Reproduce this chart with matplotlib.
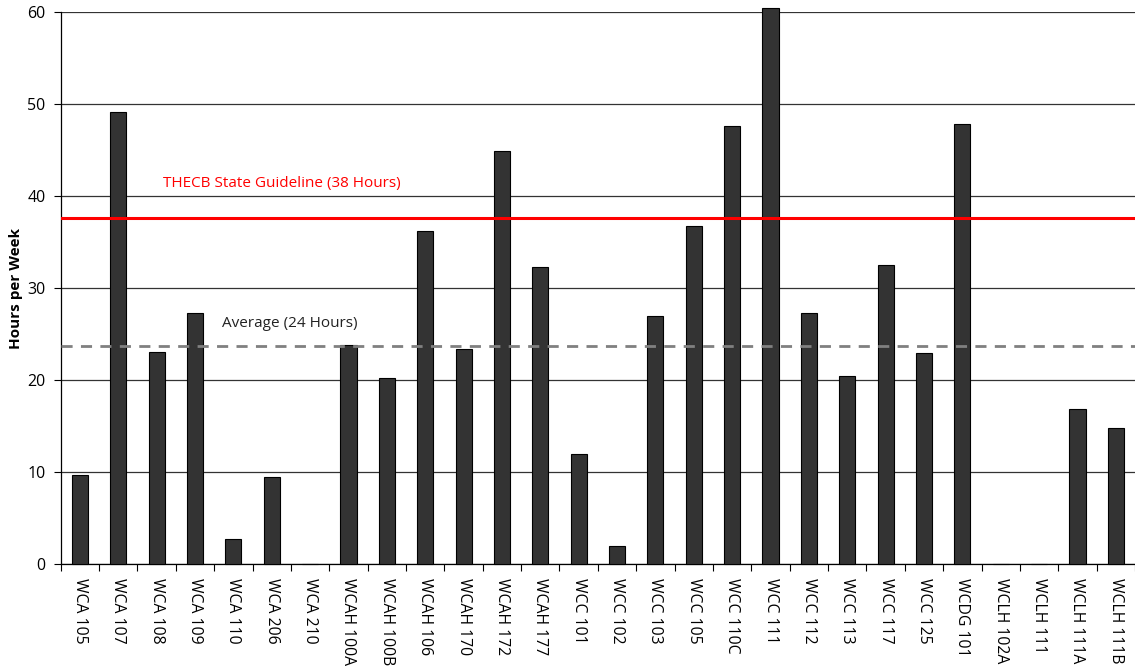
import matplotlib
matplotlib.use("Agg")
import matplotlib.pyplot as plt
import numpy as np

plt.rcParams['font.family'] = ['Open Sans', 'DejaVu Sans']

rooms = ["WCA 105", "WCA 107", "WCA 108", "WCA 109", "WCA 110", "WCA 206", "WCA 210",
         "WCAH 100A", "WCAH 100B", "WCAH 106", "WCAH 170", "WCAH 172", "WCAH 177",
         "WCC 101", "WCC 102", "WCC 103", "WCC 105", "WCC 110C", "WCC 111", "WCC 112",
         "WCC 113", "WCC 117", "WCC 125", "WCDG 101", "WCLH 102A", "WCLH 111",
         "WCLH 111A", "WCLH 111B"]
hours = [9.7, 49.1, 23.1, 27.3, 2.7, 9.5, 0, 23.8, 20.2, 36.2, 23.4, 44.9, 32.3,
         12.0, 2.0, 27.0, 36.7, 47.6, 60.4, 27.3, 20.5, 32.5, 22.9, 47.8, 0, 0,
         16.9, 14.8]
guideline = 37.65
average = 23.75

fig = plt.figure(figsize=(11.35, 6.67), dpi=100)
ax = fig.add_axes([0.0535, 0.154, 0.9465, 0.828])

x = np.arange(len(rooms))
ax.bar(x, hours, width=0.42, color='#333333', edgecolor='black', linewidth=0.8,
       zorder=3, clip_on=False)

ax.axhline(guideline, color='#ff0000', linewidth=2.2, zorder=4)
ax.axhline(average, color='#808080', linewidth=2, linestyle=(0, (4, 3)), zorder=4)
ax.text(2.16, 41.4, "THECB State Guideline (38 Hours)", color='#ff0000', fontsize=11,
        va='center', ha='left')
ax.text(3.7, 26.2, "Average (24 Hours)", color='#222222', fontsize=11,
        va='center', ha='left')

ax.set_xlim(-0.5, len(rooms) - 0.5)
ax.set_ylim(0, 60)
ax.set_yticks(range(0, 61, 10))
ax.yaxis.grid(True, color='#333333', linewidth=0.9)
ax.set_axisbelow(True)

ax.set_xticks(x)
ax.set_xticklabels(rooms, rotation=-90, fontsize=11.3)
ax.set_xticks(np.arange(-0.5, len(rooms), 1), minor=True)
ax.tick_params(axis='x', which='major', length=0, pad=10)
ax.tick_params(axis='x', which='minor', length=5, width=0.8, direction='out')
ax.tick_params(axis='y', length=5, width=0.8, labelsize=11.5, pad=6)

for s in ['top', 'right']:
    ax.spines[s].set_visible(False)
ax.spines['left'].set_linewidth(0.9)
ax.spines['bottom'].set_linewidth(0.9)

ax.set_ylabel("Hours per Week", fontsize=11, fontweight='bold', labelpad=3)

fig.savefig("out.png", dpi=100)
